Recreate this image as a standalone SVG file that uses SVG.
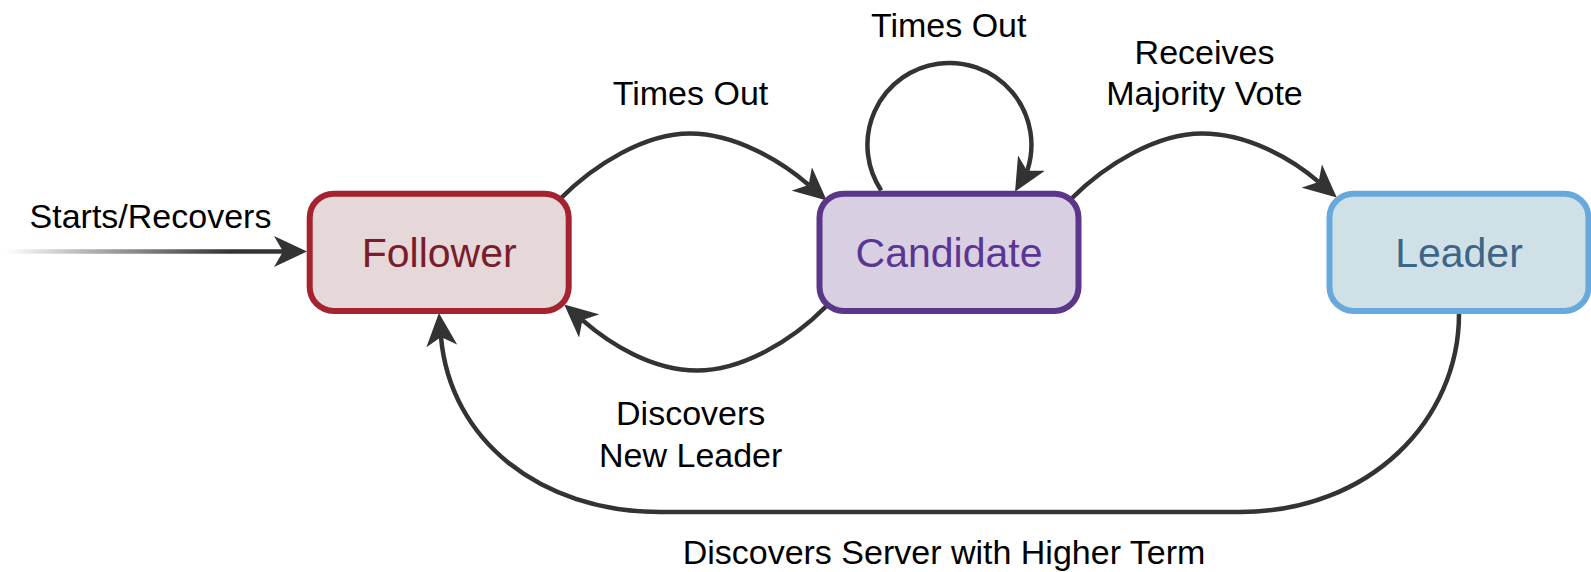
<svg xmlns="http://www.w3.org/2000/svg" width="1591" height="572" viewBox="0 0 1591 572">
  <style>
    .node rect { stroke-width: 6; }
    .node text { font-family: "Liberation Sans", Arial, Helvetica, sans-serif; font-size: 41px; text-anchor: middle; }
    .label { font-family: "Liberation Sans", Arial, Helvetica, sans-serif; font-size: 34px; fill: #000; text-anchor: middle; }
    .edge { fill: none; stroke: #333; stroke-width: 4.5; marker-end: url(#arrow); }
    .edge.entry { stroke: url(#fadeIn); }
  </style>
  <defs>
    <!-- filled arrowhead with a notched back; the path ends at the notch -->
    <marker id="arrow" markerUnits="userSpaceOnUse" viewBox="0 0 33 31" refX="9" refY="15.5" markerWidth="33" markerHeight="31" orient="auto">
      <path d="M33,15.5 L0,0 L9,15.5 L0,31 Z" fill="#333"/>
    </marker>
    <linearGradient id="fadeIn" gradientUnits="userSpaceOnUse" x1="5" y1="0" x2="230" y2="0">
      <stop offset="0" stop-color="#333" stop-opacity="0"/>
      <stop offset="1" stop-color="#333" stop-opacity="1"/>
    </linearGradient>
  </defs>

  <g id="connectors">
    <!-- entry: Starts/Recovers -->
    <path class="edge entry" d="M5,251.5 L283,251.5"/>
    <!-- Follower -> Candidate -->
    <path class="edge" d="M560,199 C595,164 645,133.5 690,133.5 C735,133.5 781,161 808.6,184.9"/>
    <!-- Candidate self-loop -->
    <path class="edge" d="M881.2,190.4 A82,82 0 1,1 1027.5,170 l-0.5,0.87"/>
    <!-- Candidate -> Leader -->
    <path class="edge" d="M1071,199 C1106,164 1157,133.5 1202,133.5 C1247,133.5 1291,158 1318.6,181.9"/>
    <!-- Candidate -> Follower -->
    <path class="edge" d="M826.5,306 C792,341 742,370.5 697,370.5 C652,370.5 610,344 582.4,320.1"/>
    <!-- Leader -> Follower -->
    <path class="edge" d="M1459,314 C1459,420 1370,512 1240,512 L660,512 C540,512 450,440 441,337"/>

    <text class="label" x="150.5" y="228">Starts/Recovers</text>
    <text class="label" x="690.5" y="105">Times Out</text>
    <text class="label" x="948.7" y="36.7">Times Out</text>
    <text class="label" x="1204.5" y="63.5">Receives</text>
    <text class="label" x="1204.5" y="105">Majority Vote</text>
    <text class="label" x="690.7" y="425">Discovers</text>
    <text class="label" x="690.7" y="466.7">New Leader</text>
    <text class="label" x="944" y="564">Discovers Server with Higher Term</text>
  </g>

  <g id="follower" class="node">
    <rect x="309.7" y="193.7" width="259" height="117.3" rx="24" fill="#e6d7d9" stroke="#a5222f"/>
    <text x="439.2" y="266.5" fill="#7a1c2b">Follower</text>
  </g>
  <g id="candidate" class="node">
    <rect x="819.5" y="193.7" width="259" height="117.3" rx="24" fill="#d9cfe3" stroke="#5b368a"/>
    <text x="949" y="266.5" fill="#5a3592">Candidate</text>
  </g>
  <g id="leader" class="node">
    <rect x="1329.5" y="193.7" width="259" height="117.3" rx="24" fill="#d0e0e7" stroke="#67a9dc"/>
    <text x="1459" y="266.5" fill="#3c6587">Leader</text>
  </g>
</svg>
